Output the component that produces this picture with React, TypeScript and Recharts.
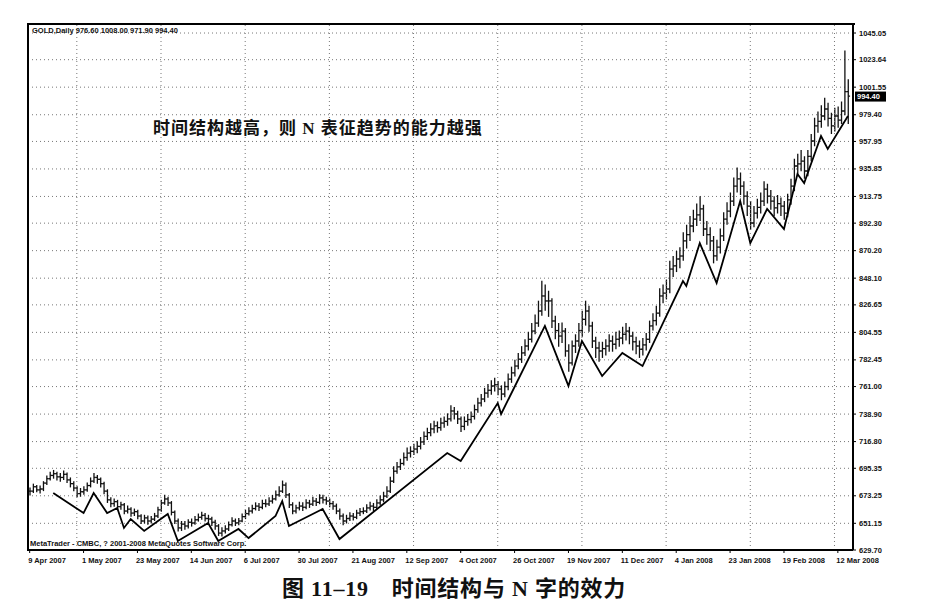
import React from 'react';
import { ComposedChart, Bar, Line, XAxis, YAxis, CartesianGrid, ReferenceLine } from 'recharts';

// GOLD daily, 9 Apr 2007 - 12 Mar 2008
const closes = [
  677.0, 680.5, 678.0, 678.7, 683.5, 687.0, 689.6, 691.0, 688.5, 688.0,
  690.5, 686.0, 683.0, 679.5, 675.0, 676.5, 678.0, 681.5, 685.0, 688.0,
  686.5, 683.0, 677.0, 670.0, 667.0, 668.5, 664.5, 666.0, 661.0, 662.5,
  659.4, 660.5, 657.0, 653.0, 655.5, 653.0, 654.5, 657.0, 662.0, 667.5,
  670.7, 667.5, 660.0, 653.0, 647.4, 650.5, 649.0, 652.0, 651.4, 654.0,
  656.0, 657.5, 655.0, 654.6, 652.0, 649.0, 643.3, 645.0, 646.6, 650.0,
  653.0, 651.5, 653.0, 656.5, 659.0, 661.0, 663.0, 665.0, 664.0, 667.0,
  666.7, 669.0, 670.7, 674.0, 677.0, 681.9, 674.0, 666.0, 661.0, 663.5,
  665.0, 664.0, 667.5, 666.5, 669.0, 668.0, 671.5, 670.0, 669.0, 667.0,
  665.0, 661.0, 657.0, 653.0, 655.0, 657.0, 656.0, 659.4, 660.5, 661.0,
  663.5, 665.0, 664.0, 667.5, 670.0, 673.0, 677.0, 685.0, 693.0, 696.5,
  699.2, 704.0, 707.6, 709.0, 710.8, 713.0, 716.5, 721.0, 724.0, 727.0,
  729.5, 728.0, 731.7, 733.0, 735.0, 741.4, 739.0, 735.0, 729.0, 733.0,
  734.5, 737.0, 742.5, 747.8, 751.0, 755.8, 758.0, 761.5, 762.5, 759.0,
  755.0, 761.0, 767.0, 772.0, 777.5, 783.0, 788.0, 793.6, 799.0, 805.6,
  812.0, 821.7, 833.8, 829.8, 829.8, 813.7, 806.0, 801.6, 805.6, 789.6,
  780.0, 793.6, 797.6, 806.0, 815.0, 821.7, 809.7, 797.6, 792.0, 789.6,
  791.5, 793.6, 797.6, 795.0, 799.0, 800.0, 803.0, 805.6, 801.6, 797.0,
  793.6, 791.0, 794.5, 799.0, 809.7, 814.0, 820.0, 833.8, 836.0, 839.4,
  855.4, 858.0, 863.5, 865.9, 878.0, 883.0, 890.0, 895.6, 899.0, 903.7,
  887.6, 883.0, 878.0, 866.0, 873.0, 882.0, 895.6, 902.0, 910.0, 922.0,
  927.8, 922.0, 914.0, 906.0, 892.4, 900.4, 905.0, 910.0, 919.7, 914.0,
  910.0, 904.5, 908.0, 906.0, 900.4, 911.0, 922.0, 938.2, 940.0, 942.2,
  934.2, 946.0, 958.3, 970.4, 974.0, 978.4, 984.0, 976.4, 970.4, 978.4,
  975.0, 982.4, 998.0, 994.4,
];

const highs = [
  680, 683, 682, 681.5, 685, 689.5, 692.5, 694, 692.5, 691.5,
  693.5, 692, 688, 685, 681, 679.5, 681, 684, 688, 691.5,
  690, 688, 684.5, 678.5, 672, 671, 670, 668.5, 667.5, 665.5,
  664, 663, 662, 658.5, 658, 657.5, 657, 659.5, 664.5, 670,
  674, 672.5, 669, 661.5, 655, 653, 653, 654.5, 655, 657,
  659, 660.5, 659.5, 658, 656.5, 654, 650.5, 648, 649.5, 652.5,
  656, 655, 655.5, 659, 662, 664, 666, 668, 667.5, 670,
  670.5, 672, 674, 677.5, 681, 685.5, 684, 675.5, 668, 666,
  668.5, 668, 670.5, 670, 672.5, 671.5, 674.5, 674, 672.5, 671,
  669, 667, 663, 659, 658, 660, 659.5, 662, 663.5, 664,
  666.5, 668.5, 667.5, 670.5, 673.5, 676.5, 681, 688.5, 697, 700.5,
  703, 708, 712, 713, 715, 717, 720.5, 725, 728, 731.5,
  733.5, 733, 736, 737, 739.5, 746, 744.5, 741.5, 737, 737,
  739, 741, 746.5, 752, 755, 760, 763, 766, 768, 765.5,
  762, 765, 771.5, 777, 782.5, 788, 793.5, 799, 805, 812,
  819, 830, 846, 843, 838, 832, 818, 812, 812.5, 808,
  795, 798, 803, 812, 822, 830, 826, 813, 801, 797,
  797, 799, 803, 802, 805, 806, 809, 812, 809, 805,
  801, 798, 800, 804, 814, 820, 826, 840, 843, 847,
  862, 866, 870, 873, 885, 891, 898, 903, 908, 914,
  907, 894, 889, 882, 879, 888, 901, 909, 917, 929,
  937, 933, 926, 918, 910, 906, 912, 917, 926, 924,
  919, 914, 915, 913, 910, 916, 928, 944, 948, 951,
  946, 951, 964, 977, 982, 987, 993, 989, 981, 985,
  986, 990, 1031, 1008,
];

const lows = [
  673.5, 675.5, 676, 675, 677, 682, 685.5, 687, 685.5, 684.5,
  686, 683.5, 680, 677, 672, 672.5, 674, 676.5, 680, 683.5,
  683, 680, 674.5, 667.5, 664, 664.5, 662, 662, 658.5, 659,
  656.5, 657, 654.5, 650.5, 651, 650, 651, 653, 655.5, 660.5,
  666, 665, 657.5, 650.5, 644.5, 645, 646, 647, 648.5, 650,
  652.5, 654, 652.5, 651.5, 649, 646, 641, 640.5, 643, 645,
  648.5, 649, 649.5, 652, 654.5, 657.5, 659, 661.5, 661, 662.5,
  664, 665, 667, 669.5, 672.5, 675.5, 671.5, 663.5, 658.5, 659,
  661.5, 661, 662.5, 663.5, 665, 665, 666.5, 667, 666, 664,
  662, 658.5, 654, 649.5, 651, 653, 653.5, 654.5, 657, 658.5,
  659.5, 661.5, 661, 662.5, 665.5, 668, 671.5, 675.5, 683.5, 691,
  694, 697.5, 701.5, 704, 706, 707.5, 710.5, 714, 718, 721,
  723.5, 724, 725.5, 728, 729.5, 733, 734.5, 731, 724.5, 726,
  729.5, 731.5, 734.5, 740, 745, 748.5, 752, 754.5, 757, 754,
  750, 752.5, 758, 764, 769, 775, 780, 785.5, 790, 796.5,
  803, 809, 818, 822, 817, 808, 799, 793, 796, 785,
  773, 778, 788, 793, 801, 810, 805, 792, 784, 781,
  784, 786, 789, 789, 791, 793, 795, 798, 795, 790,
  787, 784, 786, 790, 796, 806, 810, 817, 828, 831,
  836, 849, 853, 856, 862, 872, 878, 885, 890, 894,
  882, 875, 870, 860, 862, 868, 878, 891, 897, 906,
  917, 915, 907, 898, 887, 889, 896, 900, 906, 908,
  903, 898, 900, 898, 895, 897, 907, 918, 931, 934,
  928, 930, 942, 954, 965, 969, 975, 970, 964, 966,
  969, 972, 979, 971.9,
];

// N-shaped zigzag drawn under the bars: bar index and level of each turn
const zzIndex = [7, 16, 19, 23, 26, 28, 30, 34, 41, 44, 53, 56, 62, 65, 73, 75, 77, 87, 92,
  124, 128, 139, 140, 153, 160, 164, 170, 176, 182, 194, 195, 199, 204, 211, 214, 219, 224,
  228, 230, 235, 237, 243];
const zzValue = [675.5, 659.4, 675.5, 659.4, 663.4, 647.4, 654.6, 645.0, 658.6, 636.9, 651.4,
  636.9, 646.6, 639.3, 657.0, 669.0, 649.0, 662.6, 638.5, 707.6, 701.2, 747.8, 739.0, 809.7,
  761.5, 797.6, 769.5, 788.0, 777.5, 845.8, 841.8, 876.3, 844.2, 910.1, 876.3, 903.7, 887.6,
  931.8, 924.5, 962.3, 951.9, 978.4];

const dateLabels = ['9 Apr 2007', '1 May 2007', '23 May 2007', '14 Jun 2007', '6 Jul 2007',
  '30 Jul 2007', '21 Aug 2007', '12 Sep 2007', '4 Oct 2007', '26 Oct 2007', '19 Nov 2007',
  '11 Dec 2007', '4 Jan 2008', '23 Jan 2008', '19 Feb 2008', '12 Mar 2008'];

const priceTicks = [629.70, 651.15, 673.25, 695.35, 716.80, 738.90, 761.00, 782.45, 804.55,
  826.65, 848.10, 870.20, 892.30, 913.75, 935.85, 957.95, 979.40, 1001.55, 1023.64, 1045.05];

const gridBars = [14, 39, 64, 89, 114, 139, 164, 189, 214, 239];

const lastPrice = 994.40;

const data = closes.map((c, i) => {
  const k = zzIndex.indexOf(i);
  return {
    i,
    hl: [lows[i], highs[i]],
    close: c,
    open: i > 0 ? closes[i - 1] : c,
    zz: k >= 0 ? zzValue[k] : null,
  };
});
// one empty slot on the right, like the terminal's chart shift
data.push({ i: closes.length, hl: null, close: null, open: null, zz: null } as any);

const axisFont = "'Liberation Sans', Arial, sans-serif";
const bookFont = "'Liberation Serif', 'Noto Sans CJK SC', serif";

function OhlcShape(props: any) {
  const { x, y, width, height, payload } = props;
  if (!payload || !payload.hl) return null;
  const [lo, hi] = payload.hl;
  const top = Math.min(y, y + height);
  const h = Math.abs(height);
  const cx = x + width / 2;
  const yOf = (v: number) => top + ((hi - v) / (hi - lo)) * h;
  return (
    <g stroke="#111" strokeWidth={1.3}>
      <line x1={cx} x2={cx} y1={top} y2={top + h} />
      <line x1={cx - 1.8} x2={cx} y1={yOf(payload.open)} y2={yOf(payload.open)} />
      <line x1={cx} x2={cx + 1.8} y1={yOf(payload.close)} y2={yOf(payload.close)} />
    </g>
  );
}

function DateTick(props: any) {
  const { x, y, payload } = props;
  const label = dateLabels[payload.value / 16];
  if (!label) return null;
  return (
    <text x={x - 1.5} y={y + 8} textAnchor="start" fontSize={7.5} fontWeight={700}
      fontFamily={axisFont} fill="#111">
      {label}
    </text>
  );
}

function PriceTick(props: any) {
  const { x, y, payload } = props;
  return (
    <text x={x} y={y + 2.5} textAnchor="start" fontSize={7.5} fontWeight={700}
      fontFamily={axisFont} fill="#111">
      {Number(payload.value).toFixed(2)}
    </text>
  );
}

function PriceBox(props: any) {
  const { viewBox } = props;
  const x = viewBox.x + viewBox.width + 2;
  return (
    <g>
      <rect x={x} y={viewBox.y - 4.5} width={31} height={10} fill="#000" />
      <text x={x + 2} y={viewBox.y + 3} fontSize={7.5} fontWeight={700} fontFamily={axisFont}
        fill="#fff">
        {lastPrice.toFixed(2)}
      </text>
    </g>
  );
}

export default function App() {
  return (
    <div style={{ position: 'absolute', left: 0, top: 0, width: 925, height: 615, background: '#fff' }}>
      <ComposedChart width={925} height={615} data={data}
        margin={{ top: 24, right: 0, left: 28, bottom: 45 }}>
        <CartesianGrid vertical={false} stroke="#777" strokeDasharray="1 3" />
        {gridBars.map((g) => (
          <ReferenceLine key={g} x={g} stroke="#777" strokeDasharray="1 3" />
        ))}
        <XAxis dataKey="i" type="category" interval={15} tick={<DateTick />} tickSize={3}
          tickLine={{ stroke: '#000' }} axisLine={{ stroke: '#000', strokeWidth: 2 }} height={20} />
        <YAxis orientation="right" type="number" domain={[629.7, 1052.3]} ticks={priceTicks}
          allowDataOverflow tick={<PriceTick />} tickSize={3} tickMargin={3} width={72}
          tickLine={{ stroke: '#000' }} axisLine={{ stroke: '#000', strokeWidth: 2 }} />
        <Line dataKey="zz" type="linear" connectNulls dot={false} stroke="#000" strokeWidth={1.8}
          isAnimationActive={false} />
        <Bar dataKey="hl" barSize={2} shape={<OhlcShape />} isAnimationActive={false} />
        <ReferenceLine y={lastPrice} stroke="none" label={<PriceBox />} />
      </ComposedChart>
      <div style={{ position: 'absolute', left: 27, top: 23, width: 828, height: 528,
        boxSizing: 'border-box', borderTop: '2px solid #000', borderLeft: '2px solid #000',
        pointerEvents: 'none' }} />
      <svg width={925} height={615} style={{ position: 'absolute', left: 0, top: 0, pointerEvents: 'none' }}>
        <text x={32} y={33} fontSize={7.5} fontWeight={700} fontFamily={axisFont} fill="#111">
          GOLD,Daily  976.60 1008.00 971.90 994.40
        </text>
        <text x={30} y={546} fontSize={7.5} fontWeight={700} fontFamily={axisFont} fill="#111">
          MetaTrader - CMBC, ? 2001-2008 MetaQuotes Software Corp.
        </text>
        <text x={153} y={134} fontSize={17} fontWeight={700} letterSpacing={1}
          fontFamily={bookFont} fill="#111">
          时间结构越高，则 N 表征趋势的能力越强
        </text>
        <text x={282} y={596} fontSize={22} fontWeight={700} letterSpacing={0.8}
          fontFamily={bookFont} fill="#111">
          图 11–19　时间结构与 N 字的效力
        </text>
      </svg>
    </div>
  );
}
